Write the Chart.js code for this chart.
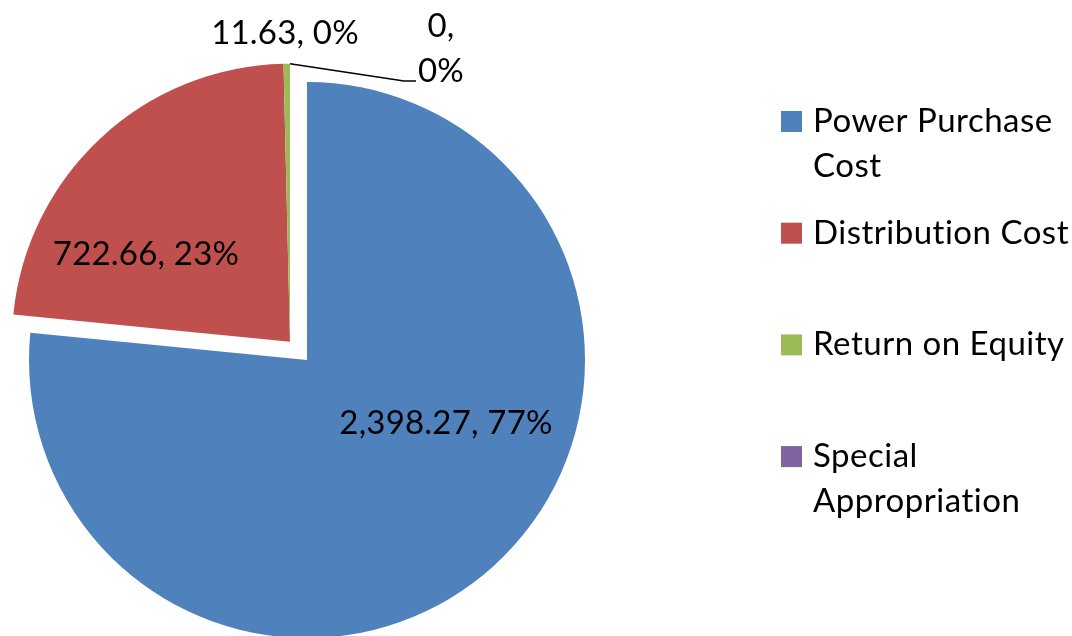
<!DOCTYPE html>
<html>
<head>
<meta charset="utf-8">
<script src="https://cdn.jsdelivr.net/npm/chart.js@4.4.1/dist/chart.umd.min.js"></script>
<style>
    html, body { margin: 0; padding: 0; background: #fff; }
    #wrap { width: 1072px; height: 636px; }
</style>
</head>
<body>
<div id="wrap"><canvas id="costPie"></canvas></div>
<script>
// Chart data
const categories = ['Power Purchase Cost', 'Distribution Cost', 'Return on Equity', 'Special Appropriation'];
const legendLines = [['Power Purchase', 'Cost'], ['Distribution Cost'], ['Return on Equity'], ['Special', 'Appropriation']];
const costValues = [2398.27, 722.66, 11.63, 0];
const sliceColors = ['#4F81BD', '#C0504D', '#9BBB59', '#8064A2'];
const explodedSlices = [false, true, true, true];

const FONT = '33px Lato, "Open Sans", sans-serif';
const EXPLODE = 25;          // px the top-left slices are pulled out
const LINE_GAP = 45;         // line height for wrapped text

// label anchor (text centre x, baseline y) relative to pie centre
const labelOffsets = [[139, 74], [-161, -95], [-22, -316], [134, -323]];

const total = costValues.reduce((a, b) => a + b, 0);
function labelText(i) {
    const v = costValues[i].toLocaleString('en-US', { maximumFractionDigits: 2 });
    const p = Math.round(costValues[i] / total * 100) + '%';
    return [v + ',', p];
}

// translation vector along the bisector of the distribution slice
function explodeVector(meta) {
    const arc = meta.data[1];
    const mid = (arc.startAngle + arc.endAngle) / 2;
    return [Math.cos(mid) * EXPLODE, Math.sin(mid) * EXPLODE];
}

// Pull the exploded slices out together (like the original)
const explodePlugin = {
    id: 'explode',
    afterDatasetUpdate(chart, args) {
        const meta = args.meta;
        meta.data.forEach((arc, i) => {
            if (!explodedSlices[i]) return;
            if (!arc._plainDraw) arc._plainDraw = arc.draw;
            arc.draw = function (ctx) {
                const [dx, dy] = explodeVector(meta);
                ctx.save();
                ctx.translate(dx, dy);
                this._plainDraw(ctx);
                ctx.restore();
            };
        });
    }
};

// Data labels + leader line
const labelPlugin = {
    id: 'sliceLabels',
    afterDatasetsDraw(chart) {
        const ctx = chart.ctx;
        const meta = chart.getDatasetMeta(0);
        const cx = meta.data[0].x;
        const cy = meta.data[0].y;
        const [dx, dy] = explodeVector(meta);
        ctx.save();
        ctx.font = FONT;
        ctx.letterSpacing = '0.2px';
        ctx.fillStyle = '#000';
        ctx.textAlign = 'center';
        ctx.textBaseline = 'alphabetic';
        meta.data.forEach((arc, i) => {
            const [t1, t2] = labelText(i);
            const x = cx + labelOffsets[i][0];
            const y = cy + labelOffsets[i][1];
            if (i === 3) {
                // label too wide for the gap: wraps onto two lines
                ctx.fillText(t1, x, y);
                ctx.fillText(t2, x, y + LINE_GAP);
                // leader line from the (empty) slice edge to the label
                const a = arc.startAngle;
                const sx = arc.x + dx + Math.cos(a) * arc.outerRadius;
                const sy = arc.y + dy + Math.sin(a) * arc.outerRadius;
                const ex = x - ctx.measureText(t2).width / 2 - 2;
                const ey = y + LINE_GAP - 1;
                ctx.beginPath();
                ctx.strokeStyle = '#000';
                ctx.lineWidth = 1.5;
                ctx.moveTo(sx, sy);
                ctx.lineTo(ex - 12, ey);
                ctx.lineTo(ex, ey);
                ctx.stroke();
            } else {
                ctx.fillText(t1 + ' ' + t2, x, y);
            }
        });
        ctx.restore();
    }
};

// Legend on the right, wrapped like the original
const legendPlugin = {
    id: 'sideLegend',
    afterDraw(chart) {
        const ctx = chart.ctx;
        const boxX = 781, textX = 813, firstTop = 111, step = 111.7, box = 21;
        ctx.save();
        ctx.font = FONT;
        ctx.letterSpacing = '0.5px';
        ctx.textAlign = 'left';
        ctx.textBaseline = 'alphabetic';
        chart.data.labels.forEach((lbl, i) => {
            const top = firstTop + i * step;
            ctx.fillStyle = chart.data.datasets[0].backgroundColor[i];
            ctx.fillRect(boxX, top, box, box);
            ctx.fillStyle = '#000';
            legendLines[i].forEach((line, j) => {
                ctx.fillText(line, textX, top + box + j * LINE_GAP);
            });
        });
        ctx.restore();
    }
};

const ctx = document.getElementById('costPie').getContext('2d');
const costPie = new Chart(ctx, {
    type: 'pie',
    data: {
        labels: categories,
        datasets: [{
            data: costValues,
            backgroundColor: sliceColors,
            borderWidth: 0,
            radius: 278
        }]
    },
    options: {
        responsive: true,
        maintainAspectRatio: false,
        animation: false,
        layout: { padding: { left: 0, right: 458, top: 84, bottom: 0 } },
        plugins: {
            legend: { display: false },
            tooltip: { enabled: false }
        }
    },
    plugins: [explodePlugin, labelPlugin, legendPlugin]
});
</script>
</body>
</html>
